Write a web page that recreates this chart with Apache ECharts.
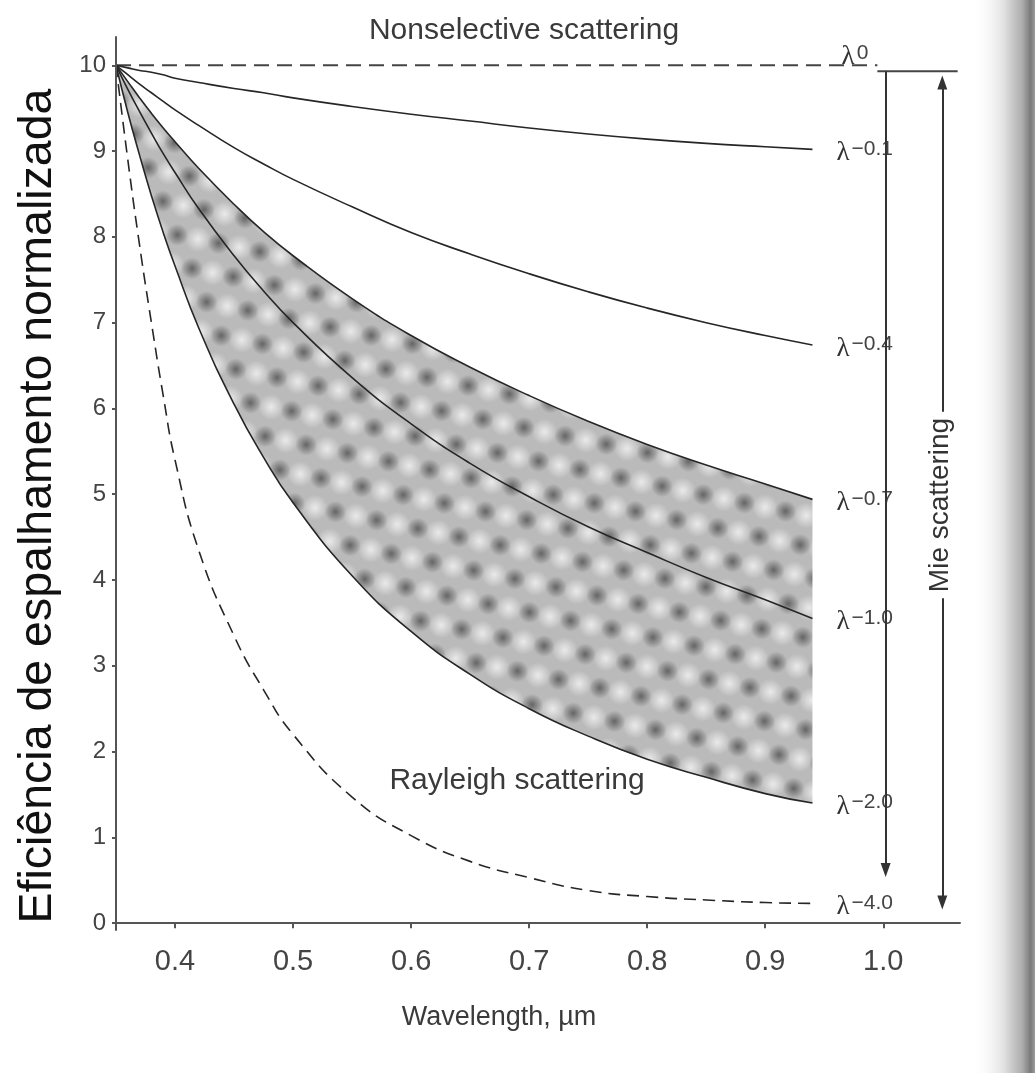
<!DOCTYPE html>
<html>
<head>
<meta charset="utf-8">
<title>Scattering efficiency</title>
<script src="https://cdn.jsdelivr.net/npm/echarts@6/dist/echarts.min.js"></script>
<style>
  html, body { margin: 0; padding: 0; background: #fff; }
  #chart { width: 1035px; height: 1073px; }
</style>
</head>
<body>
<div id="chart"></div>
<script>
var wavelength = [0.35, 0.36, 0.37, 0.38, 0.39, 0.40, 0.42, 0.45, 0.475, 0.50, 0.55, 0.60, 0.65, 0.70, 0.75, 0.80, 0.85, 0.90, 0.94];
// normalized scattering efficiency for each power law
var lamM01 = [10, 9.97, 9.94, 9.92, 9.89, 9.85, 9.80, 9.73, 9.68, 9.62, 9.52, 9.43, 9.35, 9.27, 9.20, 9.14, 9.09, 9.05, 9.02];
var lamM04 = [10, 9.89, 9.78, 9.68, 9.58, 9.48, 9.30, 9.04, 8.85, 8.67, 8.35, 8.05, 7.80, 7.57, 7.36, 7.17, 7.00, 6.85, 6.74];
var lamM07 = [10, 9.81, 9.62, 9.44, 9.27, 9.11, 8.80, 8.38, 8.06, 7.78, 7.28, 6.85, 6.48, 6.15, 5.85, 5.58, 5.34, 5.12, 4.94];
var lamM10 = [10, 9.72, 9.46, 9.21, 8.97, 8.75, 8.33, 7.78, 7.37, 7.00, 6.36, 5.82, 5.36, 4.97, 4.62, 4.32, 4.03, 3.77, 3.55];
var lamM20 = [10, 9.45, 8.95, 8.48, 8.05, 7.66, 6.94, 6.05, 5.43, 4.90, 4.05, 3.40, 2.90, 2.50, 2.18, 1.91, 1.70, 1.51, 1.40];
var lamM40 = [10, 8.9, 7.9, 7.0, 6.15, 5.4, 4.35, 3.35, 2.72, 2.2, 1.47, 1.02, 0.72, 0.53, 0.38, 0.31, 0.27, 0.24, 0.23];
// lambda^0 (nonselective) runs flat out to the bracket
var lam0X = [0.35, 0.995];
var lam0Y = [10, 10];
// tick labels
var xTicks = [0.4, 0.5, 0.6, 0.7, 0.8, 0.9, 1.0];
var yTicks = [0, 1, 2, 3, 4, 5, 6, 7, 8, 9, 10];

function pairs(xs, ys) {
  return xs.map(function (x, i) { return [x, ys[i]]; });
}
// value first so the stack lands on y (encode swaps them back)
function flipped(xs, ys) {
  return xs.map(function (x, i) { return [ys[i], x]; });
}

// halftone dot texture for the shaded band
function dotPattern() {
  var w = 42, h = 60;
  var c = document.createElement('canvas');
  c.width = w; c.height = h;
  var g = c.getContext('2d');
  g.fillStyle = '#bababa';
  g.fillRect(0, 0, w, h);
  function spot(x, y, r, col, edge) {
    for (var dx = -w; dx <= w; dx += w) {
      for (var dy = -h; dy <= h; dy += h) {
        var grd = g.createRadialGradient(x + dx, y + dy, 0, x + dx, y + dy, r);
        grd.addColorStop(0, col);
        grd.addColorStop(1, edge);
        g.fillStyle = grd;
        g.fillRect(x + dx - r, y + dy - r, 2 * r, 2 * r);
      }
    }
  }
  spot(31.5, 15, 13, 'rgba(234,234,234,1)', 'rgba(234,234,234,0)');
  spot(10.5, 45, 13, 'rgba(234,234,234,1)', 'rgba(234,234,234,0)');
  spot(10.5, 15, 11, 'rgba(100,100,100,1)', 'rgba(100,100,100,0)');
  spot(31.5, 45, 11, 'rgba(100,100,100,1)', 'rgba(100,100,100,0)');
  return c;
}

var lamRich = {
  l: { fontFamily: 'Liberation Serif', fontSize: 27, color: '#333', lineHeight: 28, verticalAlign: 'bottom' },
  s: { fontFamily: 'Liberation Sans', fontSize: 21, color: '#444', lineHeight: 22, verticalAlign: 'top', padding: [0, 0, 12, 2] }
};

var SMOOTH = 0.5;

function curve(name, ys, exp, dashed) {
  return {
    name: name,
    type: 'line',
    z: 4,
    data: pairs(wavelength, ys),
    smooth: SMOOTH,
    symbol: 'none',
    silent: true,
    lineStyle: { color: '#262626', width: 1.6, type: dashed ? [12, 7] : 'solid' },
    endLabel: {
      show: true,
      distance: 24,
      offset: [0, 3],
      backgroundColor: '#fff',
      formatter: '{l|λ}{s|' + exp + '}',
      rich: lamRich
    }
  };
}

var chart = echarts.init(document.getElementById('chart'));

var option = {
  animation: false,
  backgroundColor: '#fff',
  grid: { left: 116, right: 75, top: 37, bottom: 143 },
  xAxis: {
    type: 'value',
    z: 10,
    min: 0.35,
    max: 1.065,
    axisLine: { lineStyle: { color: '#555', width: 2 } },
    axisTick: { show: true, length: 5, lineStyle: { color: '#555', width: 2 }, customValues: xTicks },
    axisLabel: {
      customValues: xTicks,
      margin: 17,
      fontFamily: 'Liberation Sans',
      fontSize: 29,
      color: '#444',
      formatter: function (v) { return v.toFixed(1); }
    },
    splitLine: { show: false }
  },
  yAxis: {
    type: 'value',
    z: 10,
    min: -0.08,
    max: 10.33,
    axisLine: { show: true, lineStyle: { color: '#555', width: 2 } },
    axisTick: { show: true, length: 4, lineStyle: { color: '#555', width: 2 }, customValues: yTicks },
    axisLabel: {
      customValues: yTicks,
      margin: 10,
      fontFamily: 'Liberation Sans',
      fontSize: 24,
      color: '#444'
    },
    splitLine: { show: false }
  },
  graphic: [
    {
      type: 'rect', z: -10, silent: true,
      shape: { x: 972, y: 0, width: 63, height: 1073 },
      style: {
        fill: new echarts.graphic.LinearGradient(0, 0, 1, 0, [
          { offset: 0, color: 'rgba(255,255,255,0)' },
          { offset: 0.5, color: '#e2e2e2' },
          { offset: 0.8, color: '#acacac' },
          { offset: 0.93, color: '#7a7a7a' },
          { offset: 1, color: '#9c9c9c' }
        ])
      }
    },
    {
      type: 'text', x: 38, y: 506, rotation: Math.PI / 2, z: 100,
      style: { text: 'Eficiência de espalhamento normalizada', fontFamily: 'Liberation Sans', fontSize: 46.5, fill: '#111', align: 'center', verticalAlign: 'middle' }
    },
    {
      type: 'text', x: 524, y: 31, z: 100,
      style: { text: 'Nonselective scattering', fontFamily: 'Liberation Sans', fontSize: 30, fill: '#3a3a3a', align: 'center', verticalAlign: 'middle' }
    },
    {
      type: 'text', x: 517, y: 781, z: 100,
      style: { text: 'Rayleigh scattering', fontFamily: 'Liberation Sans', fontSize: 30, fill: '#3a3a3a', align: 'center', verticalAlign: 'middle' }
    },
    {
      type: 'text', x: 499, y: 1018, z: 100,
      style: { text: 'Wavelength, µm', fontFamily: 'Liberation Sans', fontSize: 27, fill: '#3a3a3a', align: 'center', verticalAlign: 'middle' }
    },
    {
      type: 'text', x: 940, y: 505, rotation: Math.PI / 2, z: 100,
      style: { text: 'Mie scattering', fontFamily: 'Liberation Sans', fontSize: 28, fill: '#333', align: 'center', verticalAlign: 'middle', backgroundColor: '#fff', padding: [8, 6] }
    }
  ],
  series: [
    // bracket on the right (annotation)
    {
      type: 'line', z: 1, silent: true, symbol: 'none',
      data: [[0.995, 9.93], [1.063, 9.93]],
      lineStyle: { color: '#444', width: 2 },
      markLine: {
        silent: true,
        symbolSize: [10, 14],
        lineStyle: { color: '#333', width: 2, type: 'solid' },
        label: { show: false },
        data: [
          [{ coord: [1.002, 9.93], symbol: 'none' }, { coord: [1.002, 0.62], symbol: 'triangle' }],
          [{ coord: [1.05, 9.8], symbol: 'triangle' }, { coord: [1.05, 0.24], symbol: 'triangle' }]
        ]
      }
    },
    // shaded band between lambda^-2.0 and lambda^-0.7 (stacked)
    {
      type: 'line', z: 2, silent: true, symbol: 'none', smooth: SMOOTH,
      stack: 'band', encode: { x: 1, y: 0 },
      data: flipped(wavelength, lamM20),
      lineStyle: { opacity: 0 }
    },
    {
      type: 'line', z: 2, silent: true, symbol: 'none', smooth: SMOOTH,
      stack: 'band', encode: { x: 1, y: 0 },
      data: flipped(wavelength, lamM07.map(function (v, i) { return v - lamM20[i]; })),
      lineStyle: { opacity: 0 },
      areaStyle: { color: { image: dotPattern(), repeat: 'repeat', rotation: 0.2 }, opacity: 1 }
    },
    {
      name: 'λ^0', type: 'line', z: 4, silent: true, symbol: 'none',
      data: pairs(lam0X, lam0Y),
      lineStyle: { color: '#444', width: 2, type: [15, 8] },
      markPoint: {
        silent: true,
        symbol: 'circle', symbolSize: 1,
        itemStyle: { color: 'rgba(0,0,0,0)' },
        label: { show: true, position: 'inside', offset: [0, -9], formatter: '{l|λ}{s|0}', rich: lamRich },
        data: [{ coord: [0.976, 10] }]
      }
    },
    curve('λ^-0.1', lamM01, '−0.1'),
    curve('λ^-0.4', lamM04, '−0.4'),
    curve('λ^-0.7', lamM07, '−0.7'),
    curve('λ^-1.0', lamM10, '−1.0'),
    curve('λ^-2.0', lamM20, '−2.0'),
    curve('λ^-4.0', lamM40, '−4.0', true)
  ]
};

chart.setOption(option);
</script>
</body>
</html>
